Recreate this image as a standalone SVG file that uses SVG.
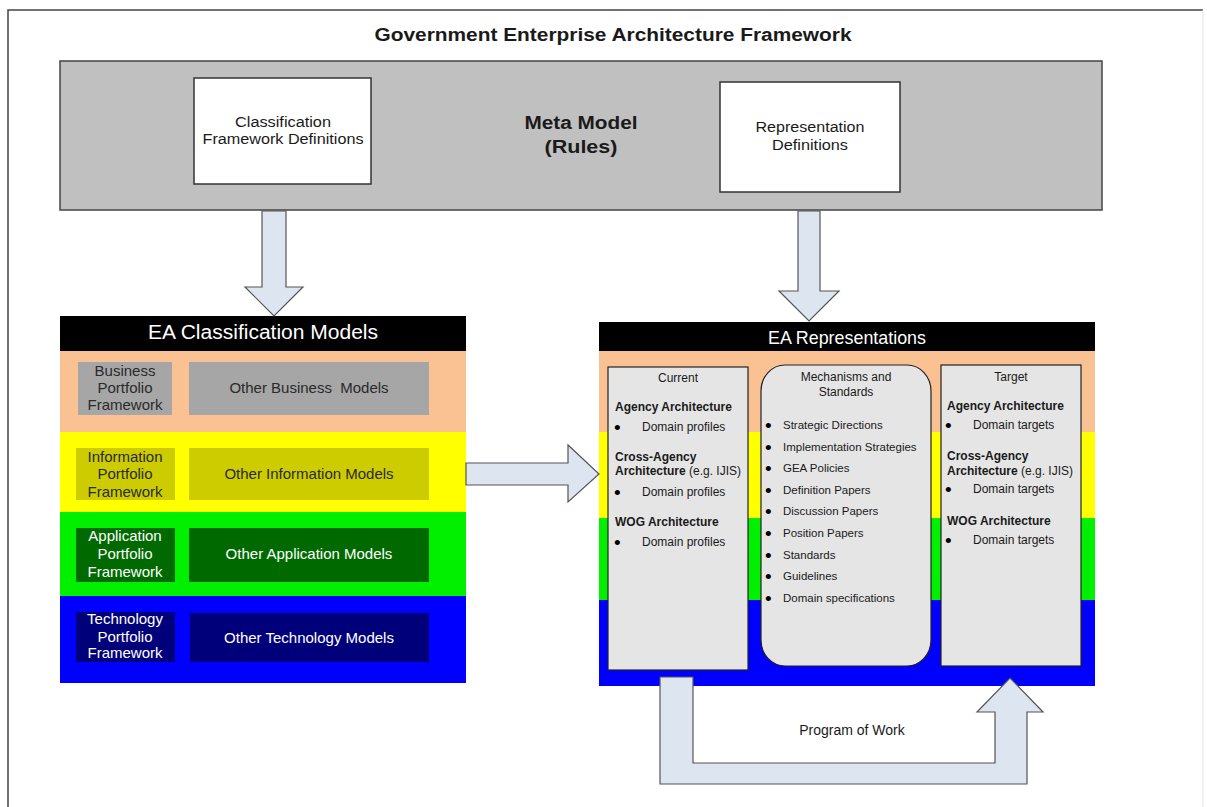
<svg xmlns="http://www.w3.org/2000/svg" width="1207" height="807" viewBox="0 0 1207 807">
<style>
  text { font-family: "Liberation Sans", Arial, sans-serif; fill: #1a1a1a; }
  .title { font-size: 18px; font-weight: bold; }
  .meta { font-size: 18px; font-weight: bold; }
  .def { font-size: 14px; }
  .hdr { font-size: 20px; fill: #ffffff; }
  .lbl { font-size: 15px; fill: #2a2a2a; }
  .lblw { font-size: 15px; fill: #ffffff; }
  .sm { font-size: 12px; }
  .smb { font-size: 12px; font-weight: bold; }
  .mech { font-size: 11.5px; }
  .bul { font-size: 19px; fill: #000000; }
  .mid { text-anchor: middle; }
  .panel { fill: #e5e5e5; stroke: #222222; stroke-width: 1.2; }
  .wbox { fill: #ffffff; stroke: #333333; stroke-width: 1.5; }
  .arrow { fill: #dde5f0; stroke: #555555; stroke-width: 1.2; stroke-linejoin: miter; }
</style>
<rect x="0" y="0" width="1207" height="807" fill="#ffffff"/>

<g id="frame">
  <path d="M8,807 L8,10 L1203,10" fill="none" stroke="#444444" stroke-width="1.5"/>
  <line x1="1203" y1="10" x2="1203" y2="807" stroke="#e6e6e6" stroke-width="1"/>
  <text class="title mid" x="613" y="41" textLength="477" lengthAdjust="spacingAndGlyphs">Government Enterprise Architecture Framework</text>
</g>

<g id="meta-model">
  <rect x="60" y="61" width="1042" height="149" fill="#c0c0c0" stroke="#444444" stroke-width="1.5"/>
  <text class="meta mid" x="581" y="129" textLength="113" lengthAdjust="spacingAndGlyphs">Meta Model</text>
  <text class="meta mid" x="581" y="153" textLength="73" lengthAdjust="spacingAndGlyphs">(Rules)</text>
</g>

<g id="classification-definitions">
  <rect class="wbox" x="194" y="78" width="177" height="106"/>
  <text class="def mid" x="283" y="127" textLength="96" lengthAdjust="spacingAndGlyphs">Classification</text>
  <text class="def mid" x="283" y="144" textLength="161" lengthAdjust="spacingAndGlyphs">Framework Definitions</text>
</g>

<g id="representation-definitions">
  <rect class="wbox" x="720" y="82" width="180" height="110"/>
  <text class="def mid" x="810" y="132" textLength="109" lengthAdjust="spacingAndGlyphs">Representation</text>
  <text class="def mid" x="810" y="150" textLength="76" lengthAdjust="spacingAndGlyphs">Definitions</text>
</g>

<g id="ea-classification-models">
  <rect x="60" y="316" width="406" height="35" fill="#000000"/>
  <text class="hdr mid" x="263" y="339" textLength="230" lengthAdjust="spacingAndGlyphs">EA Classification Models</text>
  <rect x="60" y="351" width="406" height="81" fill="#fac193"/>
  <rect x="60" y="432" width="406" height="80" fill="#ffff00"/>
  <rect x="60" y="512" width="406" height="84" fill="#00f000"/>
  <rect x="60" y="596" width="406" height="87" fill="#0000ff"/>

  <rect x="78" y="362" width="94" height="53" fill="#a6a6a6"/>
  <text class="lbl mid" x="125" y="376">Business</text>
  <text class="lbl mid" x="125" y="393">Portfolio</text>
  <text class="lbl mid" x="125" y="410">Framework</text>
  <rect x="189" y="362" width="240" height="53" fill="#a6a6a6"/>
  <text class="lbl mid" x="309" y="393" xml:space="preserve">Other Business  Models</text>

  <rect x="76" y="448" width="99" height="52" fill="#cccc00"/>
  <text class="lbl mid" x="125" y="462">Information</text>
  <text class="lbl mid" x="125" y="479">Portfolio</text>
  <text class="lbl mid" x="125" y="497">Framework</text>
  <rect x="189" y="448" width="240" height="52" fill="#cccc00"/>
  <text class="lbl mid" x="309" y="479">Other Information Models</text>

  <rect x="76" y="528" width="99" height="54" fill="#006a00"/>
  <text class="lblw mid" x="125" y="541">Application</text>
  <text class="lblw mid" x="125" y="559">Portfolio</text>
  <text class="lblw mid" x="125" y="577">Framework</text>
  <rect x="189" y="528" width="240" height="54" fill="#006a00"/>
  <text class="lblw mid" x="309" y="559">Other Application Models</text>

  <rect x="76" y="612" width="99" height="50" fill="#00007a"/>
  <text class="lblw mid" x="125" y="624">Technology</text>
  <text class="lblw mid" x="125" y="642">Portfolio</text>
  <text class="lblw mid" x="125" y="658">Framework</text>
  <rect x="190" y="613" width="239" height="49" fill="#00007a"/>
  <text class="lblw mid" x="309" y="643">Other Technology Models</text>
</g>

<g id="ea-representations">
  <rect x="599" y="322" width="496" height="29" fill="#000000"/>
  <text class="hdr mid" x="847" y="344" style="font-size:19px" textLength="158" lengthAdjust="spacingAndGlyphs">EA Representations</text>
  <rect x="599" y="351" width="496" height="81" fill="#fac193"/>
  <rect x="599" y="432" width="496" height="86" fill="#ffff00"/>
  <rect x="599" y="518" width="496" height="82" fill="#00f000"/>
  <rect x="599" y="600" width="496" height="86" fill="#0000ff"/>
</g>

<g id="current">
  <rect class="panel" x="608" y="367" width="140" height="303"/>
  <text class="sm mid" x="678" y="382">Current</text>
  <text class="smb" x="615" y="411">Agency Architecture</text>
  <text class="bul" x="614" y="434">•</text>
  <text class="sm" x="642" y="431">Domain profiles</text>
  <text class="smb" x="615" y="461">Cross-Agency</text>
  <text x="615" y="475"><tspan class="smb">Architecture</tspan><tspan class="sm"> (e.g. IJIS)</tspan></text>
  <text class="bul" x="614" y="499">•</text>
  <text class="sm" x="642" y="496">Domain profiles</text>
  <text class="smb" x="615" y="526">WOG Architecture</text>
  <text class="bul" x="614" y="549">•</text>
  <text class="sm" x="642" y="546">Domain profiles</text>
</g>

<g id="mechanisms-standards">
  <rect class="panel" x="761" y="365" width="170" height="301" rx="24" ry="26"/>
  <text class="sm mid" x="846" y="381">Mechanisms and</text>
  <text class="sm mid" x="846" y="396">Standards</text>
  <g>
    <text class="bul" x="765" y="432">•</text><text class="mech" x="783" y="429">Strategic Directions</text>
    <text class="bul" x="765" y="454">•</text><text class="mech" x="783" y="451">Implementation Strategies</text>
    <text class="bul" x="765" y="475">•</text><text class="mech" x="783" y="472">GEA Policies</text>
    <text class="bul" x="765" y="497">•</text><text class="mech" x="783" y="494">Definition Papers</text>
    <text class="bul" x="765" y="518">•</text><text class="mech" x="783" y="515">Discussion Papers</text>
    <text class="bul" x="765" y="540">•</text><text class="mech" x="783" y="537">Position Papers</text>
    <text class="bul" x="765" y="562">•</text><text class="mech" x="783" y="559">Standards</text>
    <text class="bul" x="765" y="583">•</text><text class="mech" x="783" y="580">Guidelines</text>
    <text class="bul" x="765" y="605">•</text><text class="mech" x="783" y="602">Domain specifications</text>
  </g>
</g>

<g id="target">
  <rect class="panel" x="941" y="365" width="140" height="301"/>
  <text class="sm mid" x="1011" y="381">Target</text>
  <text class="smb" x="947" y="410">Agency Architecture</text>
  <text class="bul" x="945" y="432">•</text>
  <text class="sm" x="973" y="429">Domain targets</text>
  <text class="smb" x="947" y="460">Cross-Agency</text>
  <text x="947" y="475"><tspan class="smb">Architecture</tspan><tspan class="sm"> (e.g. IJIS)</tspan></text>
  <text class="bul" x="945" y="496">•</text>
  <text class="sm" x="973" y="493">Domain targets</text>
  <text class="smb" x="947" y="525">WOG Architecture</text>
  <text class="bul" x="945" y="547">•</text>
  <text class="sm" x="973" y="544">Domain targets</text>
</g>

<g id="connectors">
  <path class="arrow" d="M262,211 L286,211 L286,287 L303,287 L274,316 L245,287 L262,287 Z"/>
  <path class="arrow" d="M798,211 L820,211 L820,291 L839,291 L809,321 L779,291 L798,291 Z"/>
  <path class="arrow" d="M466,463 L568,463 L568,445 L599,474 L568,502 L568,485 L466,485 Z"/>
  <path class="arrow" d="M660,677 L693,677 L693,763 L995,763 L995,712 L977,712 L1010,678 L1043,712 L1027,712 L1027,784 L660,784 Z"/>
  <text x="852" y="735" class="mid" style="font-size:14px">Program of Work</text>
</g>
</svg>
